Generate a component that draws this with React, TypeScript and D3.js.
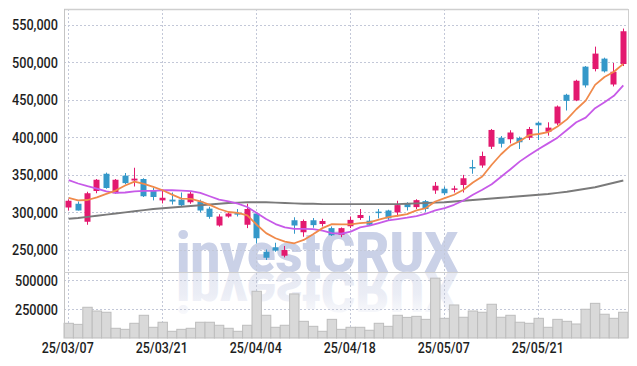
import React, { useEffect, useRef } from 'react';
import * as d3 from 'd3';

// daily candles, 25/03/07 .. (60 trading days)
const opens = [306000, 311000, 287000, 328000, 351000, 325000, 348500, 342000, 344000, 329000,
    315500, 316500, 316500, 313000, 314000, 304500, 282000, 294000, 298500, 283000,
    298000, 247000, 253000, 241700, 289000, 273000, 289000, 284000, 278500, 269500,
    281000, 292000, 288400, 300500, 302000, 299400, 311800, 306500, 314500, 328700,
    331000, 330000, 336000, 360000, 362000, 387000, 399000, 397000, 398700, 399000,
    419000, 407000, 418000, 456300, 448700, 493800, 490600, 504500, 470000, 497300];
const highs = [317000, 314000, 327000, 344000, 352500, 344000, 352000, 359000, 345000, 332000,
    330000, 326000, 326000, 328000, 316500, 307000, 297000, 300000, 304000, 311000,
    299500, 250000, 259000, 254700, 293000, 290000, 292000, 291000, 280700, 279400,
    294000, 304000, 295000, 304000, 303000, 315000, 313000, 317000, 316000, 340000,
    334000, 335000, 349500, 369500, 380500, 410700, 401300, 409000, 400500, 413400,
    420500, 419600, 442000, 457600, 476300, 494600, 520500, 505800, 498700, 544600];
const lows = [302000, 302000, 283000, 325000, 331000, 324500, 337000, 334000, 320000, 315500,
    311500, 310000, 307000, 311000, 299500, 291000, 280500, 292500, 294000, 278500,
    258000, 236000, 247000, 239500, 271000, 267000, 279000, 280700, 268000, 266400,
    278600, 289500, 281700, 291500, 289000, 294000, 302000, 304000, 300300, 324200,
    322500, 326000, 326000, 351000, 359000, 384000, 386000, 391500, 384000, 396000,
    396000, 401800, 416000, 435300, 447800, 466000, 487500, 486000, 467400, 494600];
const closes = [315000, 302000, 325000, 343000, 332000, 343000, 338500, 344500, 321000, 320000,
    319000, 314000, 309000, 324500, 302000, 293500, 294000, 298000, 297000, 304000,
    265000, 239000, 248500, 249300, 282000, 288000, 282500, 288000, 269000, 278500,
    289500, 296000, 283000, 298500, 291500, 309200, 306500, 315800, 304000, 335000,
    325000, 331500, 345000, 358000, 374700, 409400, 391000, 406000, 393000, 410700,
    415600, 412500, 440600, 448200, 475000, 468800, 511200, 487500, 487000, 541000];
const volumes = [131000, 122000, 269000, 237000, 226000, 88000, 79000, 131000, 200000, 96600,
    140000, 62000, 79000, 88000, 140000, 140000, 114000, 88000, 62000, 114000,
    407000, 200000, 96600, 114000, 384000, 148000, 105000, 62000, 165000, 79000,
    96600, 96600, 71000, 131000, 105000, 200000, 182000, 191000, 165000, 520000,
    174000, 289000, 183000, 237000, 226000, 295000, 183000, 200000, 140000, 131000,
    174000, 96600, 165000, 148000, 125000, 252000, 303000, 209000, 174000, 226000];

// moving averages
const ma5 = [318800, 315600, 316000, 319600, 324100, 328600, 335300, 340600, 337500, 333500,
    329000, 323200, 317900, 317400, 314300, 309500, 304000, 300000, 298700, 295500,
    283000, 271800, 265000, 260500, 258300, 262800, 270400, 278500, 283900, 283500,
    283500, 285300, 286200, 289700, 293200, 295000, 297200, 302100, 305200, 314000,
    318500, 323000, 329600, 339300, 347300, 363000, 377000, 388500, 394700, 402500,
    404000, 406500, 414000, 423500, 437000, 448500, 469500, 480000, 487000, 497500];
const ma20 = [342400, 338000, 334400, 331300, 327500, 325400, 326000, 327500, 328100, 328100,
    329000, 329000, 328600, 327700, 325400, 321000, 316600, 314300, 311200, 306700,
    298700, 290600, 283900, 279400, 277600, 277600, 277100, 275300, 271800, 271000,
    273800, 279500, 281700, 285300, 288800, 290600, 292400, 294600, 297700, 302100,
    305200, 309600, 315400, 322900, 329600, 337000, 347000, 357000, 367500, 375900,
    383900, 391500, 399100, 409400, 419600, 425900, 438400, 446400, 454900, 468800];
const ma120 = [291000, 292000, 293500, 295000, 296500, 298000, 299500, 301000, 302500, 304000,
    305000, 306000, 307000, 308000, 309000, 310000, 311000, 312000, 312500, 313000,
    313000, 313000, 312500, 312000, 311500, 311000, 311000, 310500, 310500, 310500,
    310500, 310500, 310500, 310500, 310500, 310500, 311000, 311500, 312000, 312500,
    313000, 314000, 315000, 316000, 317000, 318000, 319000, 320000, 321000, 322000,
    323000, 324000, 325500, 327000, 329000, 331000, 333000, 336000, 339000, 342000];

const tickIndex = [0, 10, 20, 30, 40, 50];
const tickLabels = ['25/03/07', '25/03/21', '25/04/04', '25/04/18', '25/05/07', '25/05/21'];
const priceTicks = [250000, 300000, 350000, 400000, 450000, 500000, 550000];
const volumeTicks = [250000, 500000];

const UP = '#e3196f', DOWN = '#3498c9';

export default function App() {
    const ref = useRef<SVGSVGElement>(null);

    useEffect(() => {
        const svg = d3.select(ref.current);
        svg.selectAll('*').remove();

        const left = 64, right = 628, top = 9, priceBottom = 272, volBottom = 338;

        const x = d3.scaleBand<number>().domain(d3.range(closes.length)).range([left, right]);
        const cx = (i: number) => (x(i) as number) + x.bandwidth() / 2;
        const y = d3.scaleLinear().domain([220000, 570667]).range([priceBottom, top]);
        const yv = d3.scaleLinear().domain([0, 573000]).range([volBottom + 0.5, priceBottom]);

        // watermark + its reflection under the price panel
        const defs = svg.append('defs');
        const grad = defs.append('linearGradient').attr('id', 'fade')
            .attr('x1', 0).attr('y1', 0).attr('x2', 0).attr('y2', 1);
        grad.append('stop').attr('offset', 0).attr('stop-color', '#e4e7f2').attr('stop-opacity', 0);
        grad.append('stop').attr('offset', 0.45).attr('stop-color', '#e4e7f2').attr('stop-opacity', 0.75);
        grad.append('stop').attr('offset', 1).attr('stop-color', '#e4e7f2').attr('stop-opacity', 1);

        const wm = svg.append('g')
            .attr('font-family', 'Roboto').attr('font-weight', 900).attr('font-size', 56);
        wm.append('text')
            .attr('x', 176).attr('y', priceBottom)
            .attr('textLength', 282).attr('lengthAdjust', 'spacingAndGlyphs')
            .attr('fill', '#cad1e7')
            .text('investCRUX');
        wm.append('text')
            .attr('x', 176).attr('y', priceBottom)
            .attr('transform', `translate(0,${priceBottom * 2}) scale(1,-1)`)
            .attr('textLength', 282).attr('lengthAdjust', 'spacingAndGlyphs')
            .attr('fill', 'url(#fade)')
            .text('investCRUX');

        // grid
        const grid = svg.append('g').attr('stroke', '#c3c8d8').attr('stroke-dasharray', '2,2');
        priceTicks.forEach(v => {
            grid.append('line').attr('x1', left).attr('x2', right)
                .attr('y1', Math.round(y(v)) + 0.5).attr('y2', Math.round(y(v)) + 0.5);
        });
        volumeTicks.forEach(v => {
            grid.append('line').attr('x1', left).attr('x2', right)
                .attr('y1', Math.round(yv(v)) + 0.5).attr('y2', Math.round(yv(v)) + 0.5);
        });
        tickIndex.forEach(i => {
            const px = Math.floor(cx(i)) + 0.5;
            grid.append('line').attr('x1', px).attr('x2', px).attr('y1', top).attr('y2', volBottom);
        });

        // volume bars
        svg.append('g').selectAll('rect')
            .data(volumes)
            .enter().append('rect')
            .attr('x', (d, i) => x(i) as number)
            .attr('width', x.bandwidth())
            .attr('y', d => yv(d))
            .attr('height', d => volBottom - yv(d))
            .attr('fill', '#d9d9d9')
            .attr('stroke', '#bdbdbd')
            .attr('stroke-width', 1);

        // candles
        const candle = svg.append('g').selectAll('g')
            .data(closes.map((c, i) => ({ i, o: opens[i], h: highs[i], l: lows[i], c })))
            .enter().append('g');
        candle.append('line')
            .attr('x1', d => Math.floor(cx(d.i)) + 0.5)
            .attr('x2', d => Math.floor(cx(d.i)) + 0.5)
            .attr('y1', d => y(d.h))
            .attr('y2', d => y(d.l))
            .attr('stroke', d => d.c >= d.o ? UP : DOWN);
        candle.append('rect')
            .attr('x', d => Math.floor(cx(d.i)) - 2.5)
            .attr('width', 6)
            .attr('y', d => y(Math.max(d.o, d.c)))
            .attr('height', d => Math.max(1.5, Math.abs(y(d.o) - y(d.c))))
            .attr('fill', d => d.c >= d.o ? UP : DOWN);

        // moving averages
        const line = d3.line<number>().x((d, i) => cx(i)).y(d => y(d));
        [[ma120, '#7a7a7a'], [ma20, '#c75ae8'], [ma5, '#f08a4b']].forEach(([vals, color]) => {
            svg.append('path')
                .attr('d', line(vals as number[]))
                .attr('fill', 'none')
                .attr('stroke', color as string)
                .attr('stroke-width', 1.8)
                .attr('stroke-linejoin', 'round');
        });

        // frame
        const frame = svg.append('g').attr('stroke', '#cfcfcf').attr('fill', 'none');
        frame.append('line').attr('x1', left).attr('x2', right).attr('y1', top + 0.5).attr('y2', top + 0.5).attr('stroke-width', 1.5);
        frame.append('line').attr('x1', right + 0.5).attr('x2', right + 0.5).attr('y1', top).attr('y2', volBottom);
        frame.append('line').attr('x1', left + 0.5).attr('x2', left + 0.5).attr('y1', top).attr('y2', volBottom).attr('stroke', '#c4c4c4');
        frame.append('line').attr('x1', left).attr('x2', right).attr('y1', priceBottom + 0.5).attr('y2', priceBottom + 0.5);

        // labels
        const labels = svg.append('g')
            .attr('font-family', 'Roboto').attr('font-weight', 500).attr('fill', '#1e1e1e');
        priceTicks.forEach(v => {
            labels.append('text')
                .attr('x', 12).attr('y', y(v) + 2)
                .attr('dominant-baseline', 'middle')
                .attr('font-size', 14)
                .attr('textLength', 46).attr('lengthAdjust', 'spacingAndGlyphs')
                .text(d3.format(',')(v));
        });
        volumeTicks.forEach(v => {
            labels.append('text')
                .attr('x', 15).attr('y', yv(v) + 1.5)
                .attr('dominant-baseline', 'middle')
                .attr('font-size', 14)
                .attr('textLength', 43).attr('lengthAdjust', 'spacingAndGlyphs')
                .text(String(v));
        });
        tickIndex.forEach((idx, k) => {
            labels.append('text')
                .attr('x', cx(idx) - 27).attr('y', 349)
                .attr('dominant-baseline', 'middle')
                .attr('font-size', 15)
                .attr('textLength', 52).attr('lengthAdjust', 'spacingAndGlyphs')
                .text(tickLabels[k]);
        });
    }, []);

    return (
        <svg ref={ref} width={637} height={366}
            style={{ position: 'absolute', left: 0, top: 0, background: '#fff' }} />
    );
}
